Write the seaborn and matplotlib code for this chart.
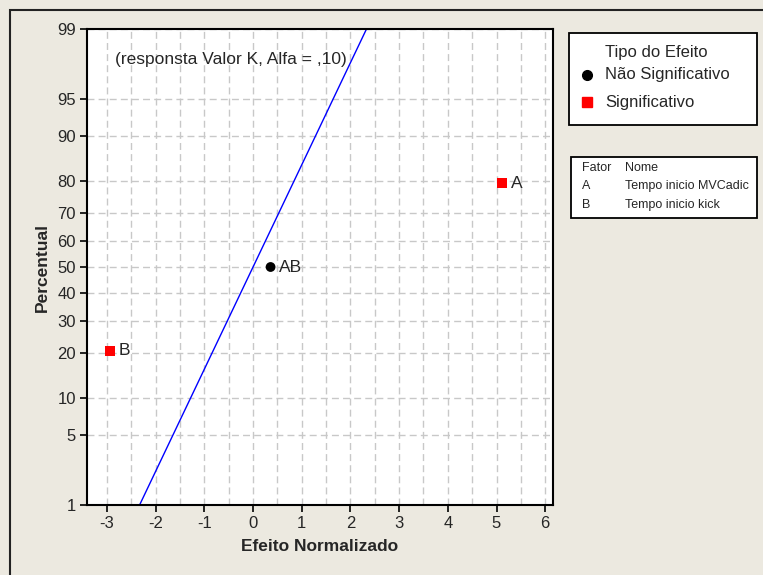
"""
Grafico normal dos efeitos normalizados (estilo Minitab)
"""
from statistics import NormalDist

import matplotlib
matplotlib.use("Agg")
import matplotlib.pyplot as plt
from matplotlib.patches import Rectangle
from matplotlib.lines import Line2D
import pandas as pd
import seaborn as sns

# Dados
efeitos = ["A", "B", "AB"]
efeito_normalizado = [5.12, -2.93, 0.36]
percentual = [79.4, 20.6, 50.0]
tipo_efeito = ["Significativo", "Significativo", "Não Significativo"]

# Reta de referencia (1% a 99%)
reta_x = [-2.33, 2.33]
reta_pct = [1, 99]

y_ticks = [1, 5, 10, 20, 30, 40, 50, 60, 70, 80, 90, 95, 99]
x_ticks = [-3, -2, -1, 0, 1, 2, 3, 4, 5, 6]
x_grid = [v / 2 for v in range(-6, 13)]

fatores = ["A", "B"]
nomes = ["Tempo inicio MVCadic", "Tempo inicio kick"]

W, H = 763, 575
BG = "#ECE9E0"
FONTE = ["Liberation Sans Narrow", "Liberation Sans", "DejaVu Sans"]

nd = NormalDist()


def z(p):
    """Converte percentual para escala normal."""
    return nd.inv_cdf(p / 100.0)


def fx(x):
    return x / W


def fy(y):
    return 1 - y / H


def main():
    sns.set_style("white")
    plt.rcParams["font.family"] = FONTE

    df = pd.DataFrame({
        "Efeito": efeitos,
        "x": efeito_normalizado,
        "z": [z(p) for p in percentual],
        "Tipo": tipo_efeito,
    })
    reta = pd.DataFrame({"x": reta_x, "z": [z(p) for p in reta_pct]})

    fig = plt.figure(figsize=(W / 100, H / 100), dpi=100, facecolor=BG)
    ax = fig.add_axes([fx(87), fy(505), fx(553) - fx(87), fy(29) - fy(505)])
    ax.set_facecolor("white")

    # grade tracejada
    for gx in x_grid:
        ax.axvline(gx, color="#C8C8C8", lw=1, ls=(0, (5, 3)), zorder=0)
    for gy in y_ticks:
        ax.axhline(z(gy), color="#C8C8C8", lw=1, ls=(0, (5, 3)), zorder=0)

    sns.lineplot(data=reta, x="x", y="z", color="#0000FF", lw=1, ax=ax, zorder=2)
    sns.scatterplot(data=df, x="x", y="z", hue="Tipo", style="Tipo",
                    palette={"Significativo": "#FF0000", "Não Significativo": "black"},
                    markers={"Significativo": "s", "Não Significativo": "o"},
                    s=50, linewidth=0, legend=False, ax=ax, zorder=3)
    for _, r in df.iterrows():
        ax.annotate(r["Efeito"], (r["x"], r["z"]), xytext=(6, 0),
                    textcoords="offset points", va="center", ha="left", fontsize=12.5)

    ax.set_xlim(-3.41, 6.16)
    ax.set_ylim(z(1), z(99))
    ax.set_xticks(x_ticks)
    ax.set_xticklabels([str(v) for v in x_ticks])
    ax.set_yticks([z(v) for v in y_ticks])
    ax.set_yticklabels([str(v) for v in y_ticks])
    ax.tick_params(axis="both", direction="out", length=5, width=1.2, color="black",
                   labelsize=12, left=True, bottom=True, pad=3)
    for sp in ax.spines.values():
        sp.set_color("black")
        sp.set_linewidth(1.5)

    ax.set_xlabel("Efeito Normalizado", fontsize=12.5, fontweight="bold", labelpad=6)
    ax.set_ylabel("Percentual", fontsize=12.5, fontweight="bold", labelpad=5)

    ax.text(0.06, 0.935, "(responsta Valor K, Alfa = ,10)", transform=ax.transAxes,
            fontsize=12.5, va="center", ha="left")

    # moldura externa
    fig.add_artist(Rectangle((fx(10), fy(600)), fx(800), fy(10) - fy(600),
                             transform=fig.transFigure, fill=False,
                             edgecolor="#222222", lw=1.5))

    # caixa 1: tipo do efeito
    fig.add_artist(Rectangle((fx(569), fy(125)), fx(757) - fx(569), fy(33) - fy(125),
                             transform=fig.transFigure, facecolor="white",
                             edgecolor="black", lw=1.3))
    fig.text(fx(605), fy(52), "Tipo do Efeito", fontsize=12, va="center", ha="left")
    fig.add_artist(Line2D([fx(587)], [fy(75)], marker="o", color="black",
                          markersize=7, transform=fig.transFigure, ls="none"))
    fig.text(fx(605), fy(75), "Não Significativo", fontsize=12, va="center", ha="left")
    fig.add_artist(Line2D([fx(587)], [fy(102)], marker="s", color="#FF0000",
                          markersize=7, transform=fig.transFigure, ls="none"))
    fig.text(fx(605), fy(102), "Significativo", fontsize=12, va="center", ha="left")

    # caixa 2: fatores
    fig.add_artist(Rectangle((fx(571), fy(218)), fx(757) - fx(571), fy(157) - fy(218),
                             transform=fig.transFigure, facecolor="white",
                             edgecolor="black", lw=1.3))
    fig.text(fx(582), fy(168), "Fator", fontsize=9, va="center", ha="left")
    fig.text(fx(625), fy(168), "Nome", fontsize=9, va="center", ha="left")
    for i, (f, n) in enumerate(zip(fatores, nomes)):
        yy = 186 + 19 * i
        fig.text(fx(582), fy(yy), f, fontsize=9, va="center", ha="left")
        fig.text(fx(625), fy(yy), n, fontsize=9, va="center", ha="left")

    fig.savefig("out.png", dpi=100, facecolor=BG)


if __name__ == "__main__":
    main()
